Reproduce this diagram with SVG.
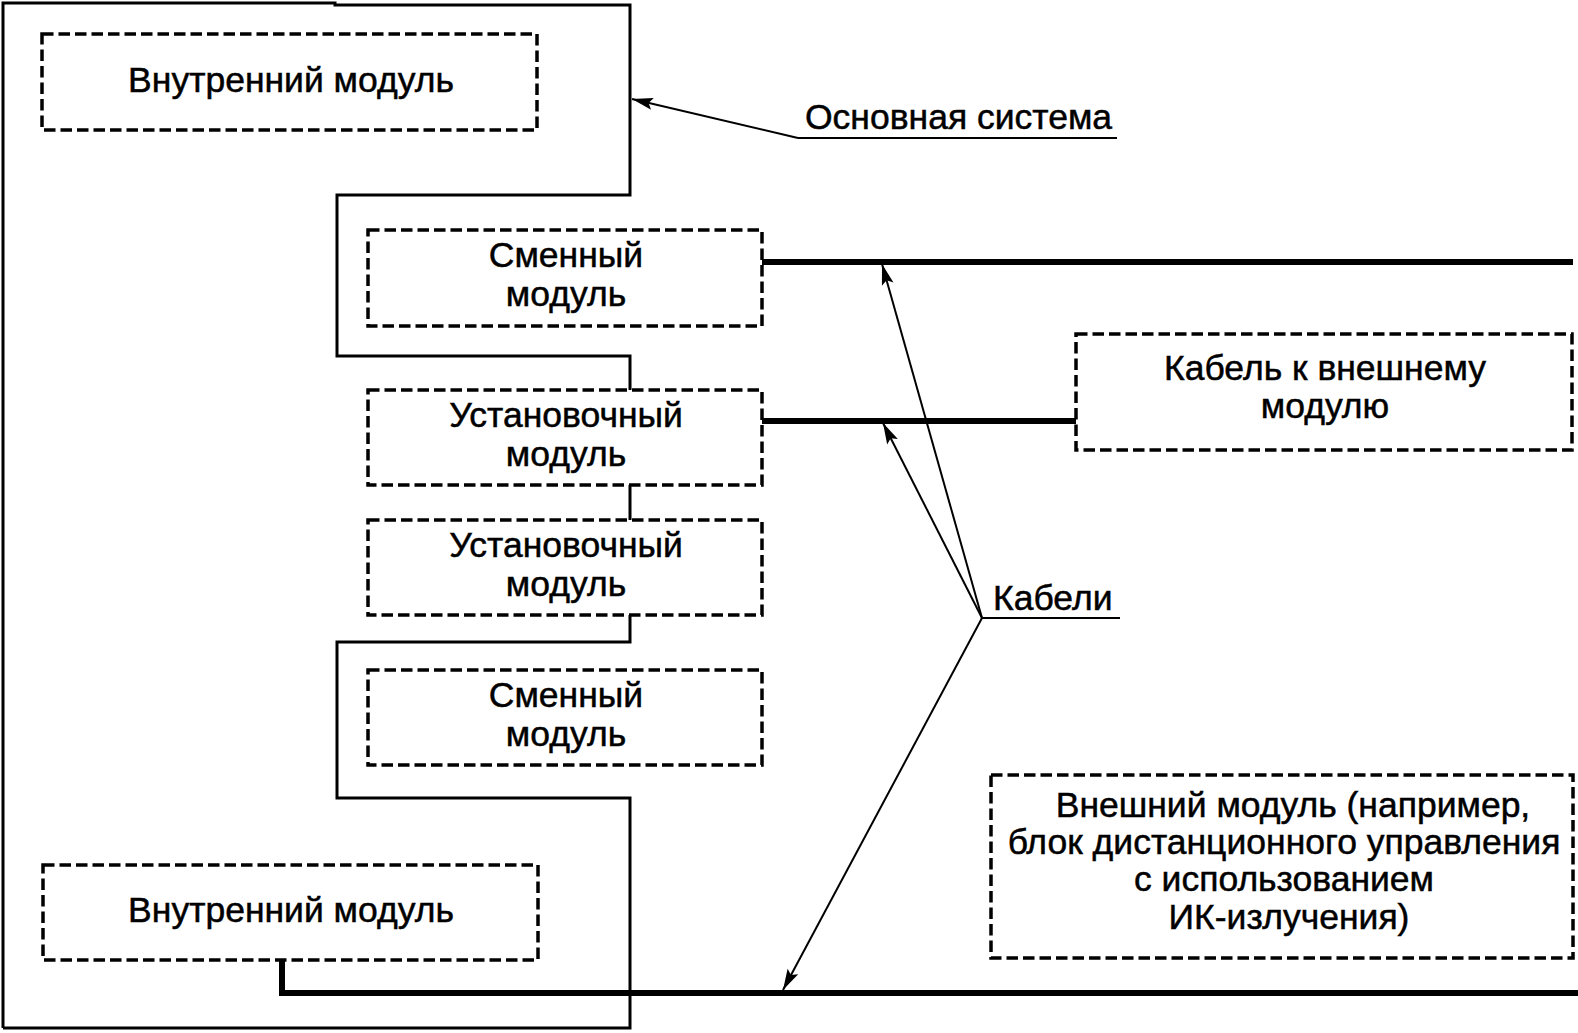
<svg xmlns="http://www.w3.org/2000/svg" width="1578" height="1033" viewBox="0 0 1578 1033">
<style>
.t{font-family:"Liberation Sans",Arial,sans-serif;font-size:35.5px;fill:#000;stroke:#000;stroke-width:0.5}
.m{text-anchor:middle}
.box{fill:none;stroke:#000;stroke-width:3.5;stroke-dasharray:11.5 5}
.out{fill:none;stroke:#000;stroke-width:3;stroke-linejoin:miter}
.cab{fill:none;stroke:#000;stroke-width:6}
.ptr{fill:none;stroke:#000;stroke-width:2}
.ul{stroke:#000;stroke-width:2}
</style>
<defs>
<marker id="ah" markerUnits="userSpaceOnUse" markerWidth="24" markerHeight="14" viewBox="-22 -7 24 14" refX="0" refY="0" orient="auto">
<path d="M0,0 L-21,-6 L-17,0 L-21,6 Z" fill="#000"/>
</marker>
</defs>
<rect width="1578" height="1033" fill="#fff"/>
<g id="main-system">
<path class="out" d="M3,1028 V3 H335 V5 H630 V195 H337 V356 H630 V390 M630,485 V520 M630,615 V642 H337 V798 H630 V1028 H3"/>
</g>
<g id="internal-top">
<rect class="box" x="42" y="34" width="495" height="96"/>
<text class="t m" x="291" y="92">Внутренний модуль</text>
</g>
<g id="replaceable-1">
<rect class="box" x="368" y="230" width="394" height="96"/>
<text class="t m" x="566" y="267">Сменный</text>
<text class="t m" x="566" y="306">модуль</text>
</g>
<g id="mounting-1">
<rect class="box" x="368" y="390" width="394" height="95"/>
<text class="t m" x="566" y="427">Установочный</text>
<text class="t m" x="566" y="466">модуль</text>
</g>
<g id="mounting-2">
<rect class="box" x="368" y="520" width="394" height="95"/>
<text class="t m" x="566" y="557">Установочный</text>
<text class="t m" x="566" y="596">модуль</text>
</g>
<g id="replaceable-2">
<rect class="box" x="368" y="670" width="394" height="95"/>
<text class="t m" x="566" y="707">Сменный</text>
<text class="t m" x="566" y="746">модуль</text>
</g>
<g id="internal-bottom">
<rect class="box" x="43" y="865" width="495" height="95"/>
<text class="t m" x="291" y="922">Внутренний модуль</text>
</g>
<g id="cable-external">
<rect class="box" x="1076" y="334" width="496" height="116"/>
<text class="t m" x="1325" y="380">Кабель к внешнему</text>
<text class="t m" x="1325" y="418">модулю</text>
</g>
<g id="external-module">
<rect class="box" x="991" y="775" width="582" height="183"/>
<text class="t m" x="1293" y="817">Внешний модуль (например,</text>
<text class="t m" x="1284" y="854">блок дистанционного управления</text>
<text class="t m" x="1284" y="891">с использованием</text>
<text class="t m" x="1289" y="929">ИК-излучения)</text>
</g>
<g id="label-main">
<text class="t" x="805" y="129">Основная система</text>
<line class="ul" x1="798" y1="138" x2="1117" y2="138"/>
</g>
<g id="label-cables">
<text class="t" x="993" y="610">Кабели</text>
<line class="ul" x1="982" y1="618" x2="1120" y2="618"/>
</g>
<g id="connectors">
<path class="cab" d="M762,262 H1573"/>
<path class="cab" d="M762,421 H1076"/>
<path class="cab" d="M282,960 V993 H1578"/>
<line class="ptr" x1="798" y1="138" x2="632" y2="99" marker-end="url(#ah)"/>
<line class="ptr" x1="982" y1="618" x2="882" y2="264" marker-end="url(#ah)"/>
<line class="ptr" x1="982" y1="618" x2="883" y2="423" marker-end="url(#ah)"/>
<line class="ptr" x1="982" y1="618" x2="783" y2="990" marker-end="url(#ah)"/>
</g>
</svg>
